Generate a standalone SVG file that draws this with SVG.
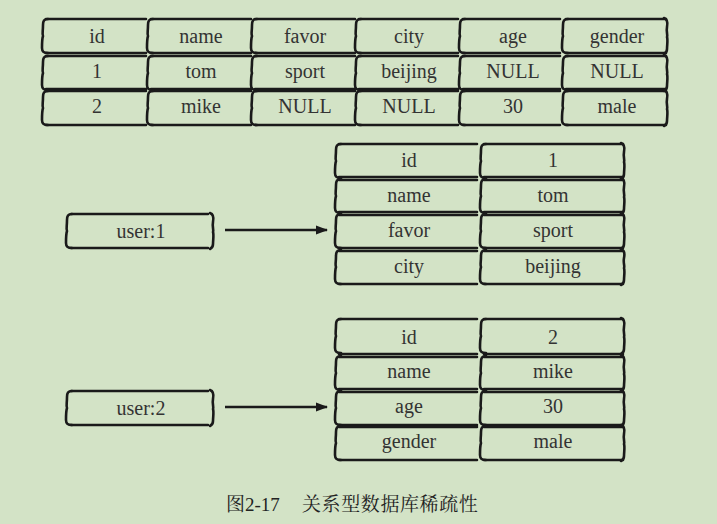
<svg xmlns="http://www.w3.org/2000/svg" xmlns:xlink="http://www.w3.org/1999/xlink" width="717" height="524" viewBox="0 0 717 524">
<defs>
<path id="lb" fill="none" stroke="#1a1a1a" stroke-width="2.6" stroke-linecap="round" stroke-linejoin="round" d="M6,0 C2,0 1,2 1,6 C1,12 0,15 1,17 C0,20 0,25 0,29 C0,33 2,34 6,34"/>
<path id="rb" fill="none" stroke="#1a1a1a" stroke-width="2.6" stroke-linecap="round" stroke-linejoin="round" d="M-3,-1 C0,0 1,3 0,8 C-1,13 1,16 0,18 C1,21 0,26 0,30 C0,33 -1,34 -3,35"/>
<marker id="ah" markerWidth="12" markerHeight="10" refX="11" refY="5" orient="auto" markerUnits="userSpaceOnUse">
<path d="M0,0.5 L12,5 L0,9.5 Z" fill="#1a1a1a"/>
</marker>
</defs>
<rect width="717" height="524" fill="#d3e3c6"/>

<g id="main-table">
<g fill="none" stroke="#1a1a1a" stroke-width="2.6" stroke-linecap="round">
<path d="M46,19 H146 M151,19 H251 M255,19 H355 M359,19 H458 M463,19 H560 M566,19 H666"/>
<path d="M46,53 H146 M151,53 H251 M255,53 H355 M359,53 H458 M463,53 H560 M566,53 H666"/>
<path d="M46,56 H146 M151,56 H251 M255,56 H355 M359,56 H458 M463,56 H560 M566,56 H666"/>
<path d="M46,89 H146 M151,89 H251 M255,89 H355 M359,89 H458 M463,89 H560 M566,89 H666"/>
<path d="M46,91 H146 M151,91 H251 M255,91 H355 M359,91 H458 M463,91 H560 M566,91 H666"/>
<path d="M46,125 H146 M151,125 H251 M255,125 H355 M359,125 H458 M463,125 H560 M566,125 H666"/>
</g>
<use xlink:href="#lb" x="42" y="19"/><use xlink:href="#lb" x="147" y="19"/><use xlink:href="#lb" x="251" y="19"/><use xlink:href="#lb" x="355" y="19"/><use xlink:href="#lb" x="459" y="19"/><use xlink:href="#lb" x="562" y="19"/><use xlink:href="#rb" x="667" y="19"/>
<use xlink:href="#lb" x="42" y="56"/><use xlink:href="#lb" x="147" y="56"/><use xlink:href="#lb" x="251" y="56"/><use xlink:href="#lb" x="355" y="56"/><use xlink:href="#lb" x="459" y="56"/><use xlink:href="#lb" x="562" y="56"/><use xlink:href="#rb" x="667" y="56"/>
<use xlink:href="#lb" x="42" y="91"/><use xlink:href="#lb" x="147" y="91"/><use xlink:href="#lb" x="251" y="91"/><use xlink:href="#lb" x="355" y="91"/><use xlink:href="#lb" x="459" y="91"/><use xlink:href="#lb" x="562" y="91"/><use xlink:href="#rb" x="667" y="91"/>
<text font-family="Liberation Serif" font-size="20" fill="#333" text-anchor="middle" x="97" y="43">id</text>
<text font-family="Liberation Serif" font-size="20" fill="#333" text-anchor="middle" x="201" y="43">name</text>
<text font-family="Liberation Serif" font-size="20" fill="#333" text-anchor="middle" x="305" y="43">favor</text>
<text font-family="Liberation Serif" font-size="20" fill="#333" text-anchor="middle" x="409" y="43">city</text>
<text font-family="Liberation Serif" font-size="20" fill="#333" text-anchor="middle" x="513" y="43">age</text>
<text font-family="Liberation Serif" font-size="20" fill="#333" text-anchor="middle" x="617" y="43">gender</text>
<text font-family="Liberation Serif" font-size="20" fill="#333" text-anchor="middle" x="97" y="78">1</text>
<text font-family="Liberation Serif" font-size="20" fill="#333" text-anchor="middle" x="201" y="78">tom</text>
<text font-family="Liberation Serif" font-size="20" fill="#333" text-anchor="middle" x="305" y="78">sport</text>
<text font-family="Liberation Serif" font-size="20" fill="#333" text-anchor="middle" x="409" y="78">beijing</text>
<text font-family="Liberation Serif" font-size="20" fill="#333" text-anchor="middle" x="513" y="78">NULL</text>
<text font-family="Liberation Serif" font-size="20" fill="#333" text-anchor="middle" x="617" y="78">NULL</text>
<text font-family="Liberation Serif" font-size="20" fill="#333" text-anchor="middle" x="97" y="113">2</text>
<text font-family="Liberation Serif" font-size="20" fill="#333" text-anchor="middle" x="201" y="113">mike</text>
<text font-family="Liberation Serif" font-size="20" fill="#333" text-anchor="middle" x="305" y="113">NULL</text>
<text font-family="Liberation Serif" font-size="20" fill="#333" text-anchor="middle" x="409" y="113">NULL</text>
<text font-family="Liberation Serif" font-size="20" fill="#333" text-anchor="middle" x="513" y="113">30</text>
<text font-family="Liberation Serif" font-size="20" fill="#333" text-anchor="middle" x="617" y="113">male</text>
</g>

<g id="user1">
<path fill="none" stroke="#1a1a1a" stroke-width="2.6" stroke-linecap="round" d="M71,214 H208 M71,248 H208"/>
<use xlink:href="#lb" x="66" y="214"/><use xlink:href="#rb" x="213" y="214"/>
<text font-family="Liberation Serif" font-size="20" fill="#333" text-anchor="middle" x="141" y="238">user:1</text>
</g>

<g id="user2">
<path fill="none" stroke="#1a1a1a" stroke-width="2.6" stroke-linecap="round" d="M71,391 H208 M71,425 H208"/>
<use xlink:href="#lb" x="66" y="391"/><use xlink:href="#rb" x="213" y="391"/>
<text font-family="Liberation Serif" font-size="20" fill="#333" text-anchor="middle" x="141" y="415">user:2</text>
</g>

<g id="hash1">
<g fill="none" stroke="#1a1a1a" stroke-width="2.6" stroke-linecap="round">
<path d="M339,144 H477 M484,144 H623 M339,177 H477 M484,177 H623"/>
<path d="M339,180 H477 M484,180 H623 M339,212 H477 M484,212 H623"/>
<path d="M339,215 H477 M484,215 H623 M339,248 H477 M484,248 H623"/>
<path d="M339,251 H477 M484,251 H623 M339,284 H477 M484,284 H623"/>
</g>
<use xlink:href="#lb" x="335" y="144"/><use xlink:href="#lb" x="480" y="144"/><use xlink:href="#rb" x="624" y="144"/>
<use xlink:href="#lb" x="335" y="179"/><use xlink:href="#lb" x="480" y="179"/><use xlink:href="#rb" x="624" y="179"/>
<use xlink:href="#lb" x="335" y="214"/><use xlink:href="#lb" x="480" y="214"/><use xlink:href="#rb" x="624" y="214"/>
<use xlink:href="#lb" x="335" y="250"/><use xlink:href="#lb" x="480" y="250"/><use xlink:href="#rb" x="624" y="250"/>
<text font-family="Liberation Serif" font-size="20" fill="#333" text-anchor="middle" x="409" y="167">id</text>
<text font-family="Liberation Serif" font-size="20" fill="#333" text-anchor="middle" x="553" y="167">1</text>
<text font-family="Liberation Serif" font-size="20" fill="#333" text-anchor="middle" x="409" y="202">name</text>
<text font-family="Liberation Serif" font-size="20" fill="#333" text-anchor="middle" x="553" y="202">tom</text>
<text font-family="Liberation Serif" font-size="20" fill="#333" text-anchor="middle" x="409" y="237">favor</text>
<text font-family="Liberation Serif" font-size="20" fill="#333" text-anchor="middle" x="553" y="237">sport</text>
<text font-family="Liberation Serif" font-size="20" fill="#333" text-anchor="middle" x="409" y="273">city</text>
<text font-family="Liberation Serif" font-size="20" fill="#333" text-anchor="middle" x="553" y="273">beijing</text>
</g>

<g id="hash2">
<g fill="none" stroke="#1a1a1a" stroke-width="2.6" stroke-linecap="round">
<path d="M339,319 H477 M484,319 H623 M339,354 H477 M484,354 H623"/>
<path d="M339,357 H477 M484,357 H623 M339,389 H477 M484,389 H623"/>
<path d="M339,392 H477 M484,392 H623 M339,425 H477 M484,425 H623"/>
<path d="M339,427 H477 M484,427 H623 M339,460 H477 M484,460 H623"/>
</g>
<use xlink:href="#lb" x="335" y="319"/><use xlink:href="#lb" x="480" y="319"/><use xlink:href="#rb" x="624" y="319"/>
<use xlink:href="#lb" x="335" y="356"/><use xlink:href="#lb" x="480" y="356"/><use xlink:href="#rb" x="624" y="356"/>
<use xlink:href="#lb" x="335" y="391"/><use xlink:href="#lb" x="480" y="391"/><use xlink:href="#rb" x="624" y="391"/>
<use xlink:href="#lb" x="335" y="426"/><use xlink:href="#lb" x="480" y="426"/><use xlink:href="#rb" x="624" y="426"/>
<text font-family="Liberation Serif" font-size="20" fill="#333" text-anchor="middle" x="409" y="344">id</text>
<text font-family="Liberation Serif" font-size="20" fill="#333" text-anchor="middle" x="553" y="344">2</text>
<text font-family="Liberation Serif" font-size="20" fill="#333" text-anchor="middle" x="409" y="378">name</text>
<text font-family="Liberation Serif" font-size="20" fill="#333" text-anchor="middle" x="553" y="378">mike</text>
<text font-family="Liberation Serif" font-size="20" fill="#333" text-anchor="middle" x="409" y="413">age</text>
<text font-family="Liberation Serif" font-size="20" fill="#333" text-anchor="middle" x="553" y="413">30</text>
<text font-family="Liberation Serif" font-size="20" fill="#333" text-anchor="middle" x="409" y="448">gender</text>
<text font-family="Liberation Serif" font-size="20" fill="#333" text-anchor="middle" x="553" y="448">male</text>
</g>

<g id="connectors">
<line fill="none" stroke="#1a1a1a" stroke-width="2.6" x1="225" y1="230" x2="327" y2="230" marker-end="url(#ah)"/>
<line fill="none" stroke="#1a1a1a" stroke-width="2.6" x1="225" y1="407" x2="327" y2="407" marker-end="url(#ah)"/>
</g>

<text x="226" y="511" font-family="Noto Serif CJK SC" font-size="19" fill="#222">图<tspan font-family="Liberation Serif">2-17</tspan></text>
<text x="302" y="511" font-family="Noto Serif CJK SC" font-size="19" letter-spacing="0.6" fill="#222">关系型数据库稀疏性</text>
</svg>
